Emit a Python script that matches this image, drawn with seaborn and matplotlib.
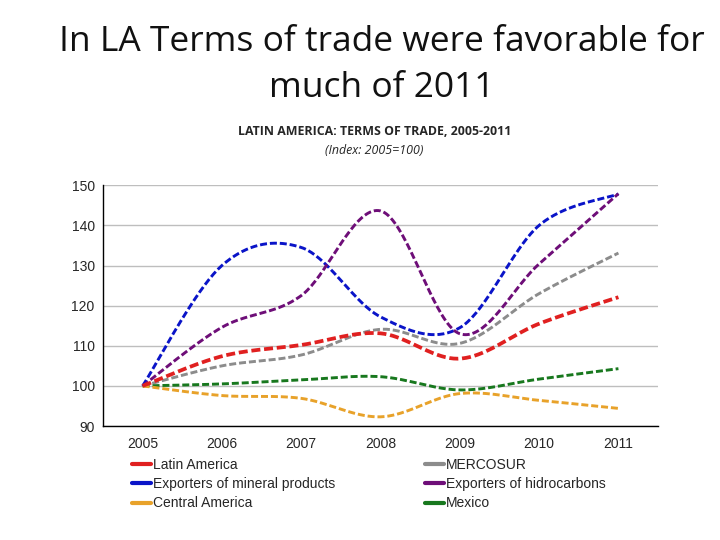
import numpy as np
import pandas as pd
import seaborn as sns
import matplotlib.pyplot as plt
from matplotlib.lines import Line2D

years = ["2005", "2006", "2007", "2008", "2009", "2010", "2011"]

latin_america = [100, 107.4, 110.2, 113.1, 106.8, 115.5, 122.1]
mercosur = [100, 105.0, 107.7, 114.1, 110.6, 123.0, 133.1]
mineral = [100, 130.0, 134.5, 117.2, 114.5, 140.0, 147.8]
hidrocarbons = [100, 114.6, 122.5, 143.6, 113.0, 130.4, 147.9]
central_america = [100, 97.6, 96.9, 92.3, 98.1, 96.4, 94.4]
mexico = [100, 100.5, 101.5, 102.3, 99.0, 101.7, 104.3]

series_names = ["Latin America", "Exporters of mineral products", "Central America",
                "MERCOSUR", "Exporters of hidrocarbons", "Mexico"]
series_vals = [latin_america, mineral, central_america, mercosur, hidrocarbons, mexico]
colors = ["#E02020", "#0A14C8", "#E8A22A", "#8C8C8C", "#6E0E78", "#18781E"]
widths = [2.7, 2.1, 2.1, 2.1, 2.1, 2.1]


def smooth(yv, n=40):
    # excel-style smoothed line: bezier segments with catmull-rom tangents
    x = np.arange(len(yv), dtype=float)
    y = np.asarray(yv, dtype=float)
    px = np.concatenate([[x[0]], x, [x[-1]]])
    py = np.concatenate([[y[0]], y, [y[-1]]])
    xs, ys = [], []
    t = np.linspace(0, 1, n)
    for i in range(len(x) - 1):
        p0 = np.array([px[i + 1], py[i + 1]])
        p3 = np.array([px[i + 2], py[i + 2]])
        c1 = p0 + (np.array([px[i + 2], py[i + 2]]) - np.array([px[i], py[i]])) / 6
        c2 = p3 - (np.array([px[i + 3], py[i + 3]]) - np.array([px[i + 1], py[i + 1]])) / 6
        b = ((1 - t) ** 3)[:, None] * p0 + (3 * (1 - t) ** 2 * t)[:, None] * c1 \
            + (3 * (1 - t) * t ** 2)[:, None] * c2 + (t ** 3)[:, None] * p3
        xs.extend(b[:, 0])
        ys.extend(b[:, 1])
    return np.array(xs), np.array(ys)


sns.set_style("white")
plt.rcParams["font.family"] = ["Liberation Sans", "DejaVu Sans"]

fig = plt.figure(figsize=(7.2, 5.4), dpi=100)
ax = fig.add_axes([0.143, 0.211, 0.771, 0.446])

# draw in order so that red sits on top
draw_order = [3, 5, 2, 1, 4, 0]
for i in draw_order:
    xs, ys = smooth(series_vals[i])
    df = pd.DataFrame({"x": xs, "y": ys})
    sns.lineplot(data=df, x="x", y="y", ax=ax, color=colors[i], linewidth=widths[i],
                 linestyle=(0, (2.4, 1.0)), sort=False, legend=False, estimator=None)

ax.set_xlim(-0.5, 6.5)
ax.set_ylim(90, 150)
ax.set_yticks(range(90, 151, 10))
ax.set_xticks(range(len(years)))
ax.set_xticklabels(years)
ax.set_xticks(np.arange(-0.5, 7, 1), minor=True)
ax.tick_params(axis="x", which="major", length=0, pad=8, labelsize=10)
ax.tick_params(axis="x", which="minor", length=5, width=1, color="black", direction="out")
ax.tick_params(axis="y", length=0, pad=6, labelsize=10)
ax.yaxis.grid(True, color="#BEBEBE", linewidth=1)
ax.set_axisbelow(True)
for s in ["top", "right"]:
    ax.spines[s].set_visible(False)
for s in ["left", "bottom"]:
    ax.spines[s].set_color("black")
    ax.spines[s].set_linewidth(1)
ax.set_xlabel("")
ax.set_ylabel("")

title_font = ["Open Sans", "DejaVu Sans"]
fig.text(0.53, 0.922, "In LA Terms of trade were favorable for", ha="center", va="center",
         fontsize=25.5, family=title_font, color="#111111")
fig.text(0.53, 0.837, "much of 2011", ha="center", va="center",
         fontsize=25.5, family=title_font, color="#111111")
fig.text(0.52, 0.757, "LATIN AMERICA: TERMS OF TRADE, 2005-2011", ha="center", va="center",
         fontsize=8.9, fontweight="bold", family=title_font)
fig.text(0.52, 0.722, "(Index: 2005=100)", ha="center", va="center",
         fontsize=8.9, style="italic", family=title_font)

handles = [Line2D([0], [0], color=c, linewidth=3) for c in colors]
leg_kw = dict(frameon=False, fontsize=10, handlelength=1.4, handletextpad=0.1,
              labelspacing=0.38, borderpad=0, borderaxespad=0, loc="upper left")
fig.legend(handles[:3], series_names[:3], bbox_to_anchor=(0.183, 0.152), **leg_kw)
fig.legend(handles[3:], series_names[3:], bbox_to_anchor=(0.590, 0.152), **leg_kw)

fig.savefig("out.png", dpi=100)
